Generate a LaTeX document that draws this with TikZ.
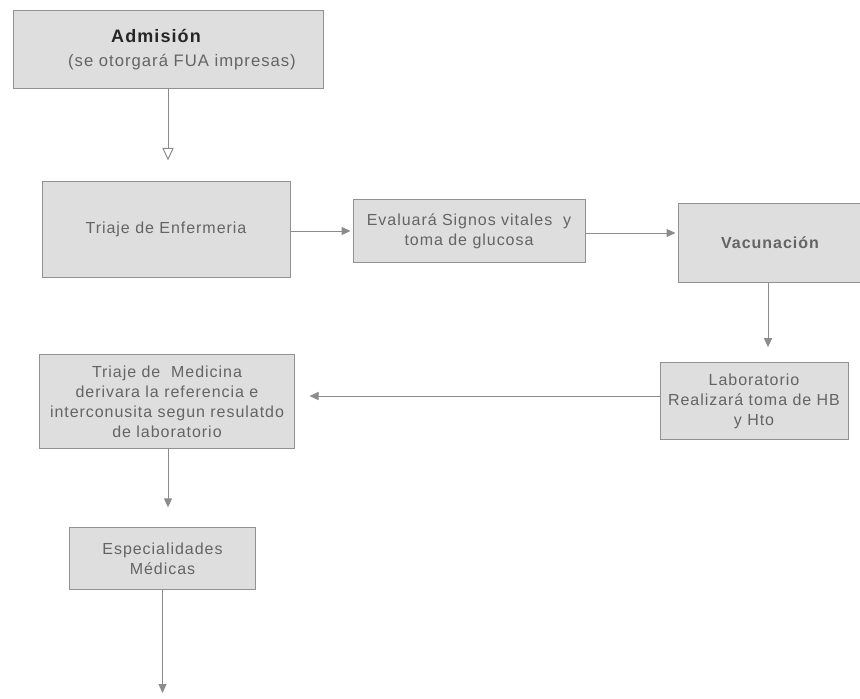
\documentclass[tikz,border=0pt]{standalone}
\usepackage{fontspec}
\setmainfont{Liberation Sans}[LetterSpace=6]
\usepackage{tikz}
\tikzset{every picture/.style={line width=0.75pt}}
\usepackage{color}
\usetikzlibrary{arrows.meta}
\definecolor{boxfill}{RGB}{222,222,222}
\definecolor{boxline}{RGB}{145,145,145}
\definecolor{boxtext}{RGB}{100,100,100}
\definecolor{flowline}{RGB}{140,140,140}
\tikzset{
  stepbox/.style={draw=boxline, fill=boxfill, text=boxtext, inner sep=0.75pt, align=center, font=\fontsize{12}{15}\selectfont},
  flow/.style={draw=flowline, -{Triangle[length=6.75pt,width=6pt]}},
  openflow/.style={draw=flowline, -{Triangle[open,fill=white,length=9.5pt,width=8.5pt]}},
}

\begin{document}
\begin{tikzpicture}[x=0.75pt,y=0.75pt,yscale=-1,xscale=1]
%set diagram to the size of the scan
\useasboundingbox (0,0) rectangle (860,699);
\fill[white] (0,0) rectangle (860,699);

%Shape: Rectangle [Admision]
\node (adm) [stepbox, minimum width=232.5pt, minimum height=58.5pt, text=black!85] at (168,50)
  {{\fontsize{13.5}{19}\selectfont\bfseries Admisión}\hspace*{18pt}\\[3pt] \hspace*{21pt}{\fontsize{12.5}{15}\selectfont\color{boxtext}(se otorgará FUA impresas)}};
%Shape: Rectangle [Triaje de Enfermeria]
\node (enf) [stepbox, minimum width=186pt, minimum height=72pt] at (166,229) {Triaje de Enfermeria};
%Shape: Rectangle [Signos vitales]
\node (eval) [stepbox, minimum width=174pt, minimum height=47.5pt] at (469,231) {Evaluará Signos vitales\ \ y\\toma de glucosa};
%Shape: Rectangle [Vacunacion]
\node (vac) [stepbox, minimum width=138pt, minimum height=59pt] at (770,243) {\bfseries Vacunación};
%Shape: Rectangle [Laboratorio]
\node (lab) [stepbox, minimum width=141pt, minimum height=58pt] at (754,401) {Laboratorio\\Realizará toma de HB\\y Hto};
%Shape: Rectangle [Triaje de Medicina]
\node (med) [stepbox, minimum width=191pt, minimum height=70pt] at (167,401.5) {Triaje de\ \ Medicina\\derivara la referencia e\\interconusita segun resulatdo\\de laboratorio};
%Shape: Rectangle [Especialidades]
\node (esp) [stepbox, minimum width=139pt, minimum height=46pt] at (162.5,558.5) {Especialidades\\Médicas};
%free end of the last arrow
\coordinate (fin) at (162.5,693);

%Straight Lines
\draw [openflow, shorten >=15pt] (adm.south) -- (adm.south |- enf.north);
%Straight Lines
\draw [flow, shorten >=1.5pt] (enf.east |- 0,231) -- (eval.west |- 0,231);
%Straight Lines
\draw [flow, shorten >=1.5pt] (eval.east |- 0,233) -- (vac.west |- 0,233);
%Straight Lines
\draw [flow, shorten >=11pt] (vac.south -| 768,0) -- (lab.north -| 768,0);
%Straight Lines
\draw [flow, shorten >=11pt] (lab.west |- 0,396) -- (med.east |- 0,396);
%Straight Lines
\draw [flow, shorten >=15pt] (med.south -| 168,0) -- (esp.north -| 168,0);
%Straight Lines
\draw [flow] (esp.south) -- (fin);
\end{tikzpicture}
\end{document}
